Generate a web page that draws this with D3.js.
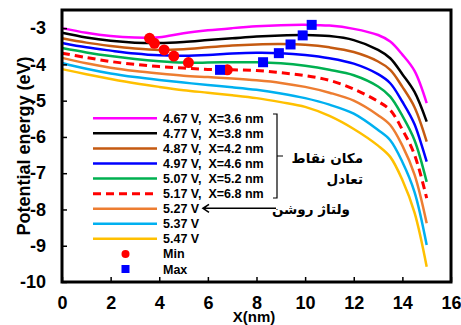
<!DOCTYPE html>
<html>
<head>
<meta charset="utf-8">
<script src="https://cdn.jsdelivr.net/npm/d3@7/dist/d3.min.js"></script>
<style>
  html, body { margin: 0; padding: 0; background: #fff; }
  svg { display: block; }
  text { font-family: Arial, "Liberation Sans", sans-serif; font-weight: bold; }
  .fa { font-family: "DejaVu Sans", sans-serif; font-weight: bold; }
</style>
</head>
<body>
<svg id="chart" width="461" height="325"></svg>
<script>
// Sample positions along the device (nm)
const positions = [0, 1, 2, 3, 4, 5, 6, 7, 8, 9, 10, 11, 12, 13, 13.5, 14, 14.5, 15];

// Potential energy (eV) for each applied voltage
const e467 = [-3.00, -3.13, -3.22, -3.26, -3.25, -3.14, -3.06, -3.00, -2.95, -2.92, -2.91, -2.93, -3.02, -3.19, -3.37, -3.73, -4.18, -5.07];
const e477 = [-3.13, -3.26, -3.35, -3.40, -3.41, -3.38, -3.33, -3.28, -3.23, -3.20, -3.19, -3.22, -3.33, -3.60, -3.83, -4.27, -4.76, -5.58];
const e487 = [-3.28, -3.40, -3.49, -3.56, -3.60, -3.58, -3.53, -3.48, -3.45, -3.44, -3.46, -3.53, -3.66, -3.92, -4.15, -4.62, -5.18, -6.13];
const e497 = [-3.41, -3.53, -3.62, -3.70, -3.75, -3.76, -3.74, -3.70, -3.68, -3.69, -3.74, -3.83, -3.98, -4.27, -4.52, -5.03, -5.65, -6.68];
const e507 = [-3.55, -3.67, -3.77, -3.85, -3.91, -3.95, -3.95, -3.94, -3.94, -3.97, -4.04, -4.15, -4.30, -4.61, -4.89, -5.42, -6.09, -7.24];
const e517 = [-3.69, -3.81, -3.92, -4.00, -4.06, -4.10, -4.14, -4.15, -4.17, -4.23, -4.31, -4.44, -4.68, -5.02, -5.26, -5.80, -6.49, -7.69];
const e527 = [-3.82, -3.97, -4.09, -4.18, -4.25, -4.31, -4.35, -4.39, -4.44, -4.51, -4.62, -4.78, -5.00, -5.40, -5.67, -6.24, -7.04, -8.38];
const e537 = [-3.96, -4.12, -4.25, -4.35, -4.43, -4.50, -4.57, -4.63, -4.70, -4.80, -4.93, -5.11, -5.36, -5.81, -6.09, -6.69, -7.52, -8.98];
const e547 = [-4.13, -4.27, -4.40, -4.52, -4.62, -4.71, -4.78, -4.85, -4.93, -5.04, -5.17, -5.42, -5.78, -6.24, -6.55, -7.19, -8.09, -9.58];

const voltageLabels = ["4.67 V", "4.77 V", "4.87 V", "4.97 V", "5.07 V", "5.17 V", "5.27 V", "5.37 V", "5.47 V"];
const lineColors = ["#ff00ff", "#000000", "#c55a11", "#0000ff", "#00b050", "#ff0000", "#ed7d31", "#00b0f0", "#ffc000"];

// Equilibrium points (local minimum / maximum) for the first six voltages
const minX = [3.6, 3.8, 4.2, 4.6, 5.2, 6.8];
const minE = [-3.28, -3.42, -3.60, -3.77, -3.95, -4.15];
const maxX = [10.27, 9.9, 9.4, 8.92, 8.27, 6.5];
const maxE = [-2.91, -3.20, -3.45, -3.69, -3.94, -4.15];

const xTicks = [0, 2, 4, 6, 8, 10, 12, 14, 16];
const yTicks = [-10, -9, -8, -7, -6, -5, -4, -3];

const seriesValues = [e467, e477, e487, e497, e507, e517, e527, e537, e547];

const svg = d3.select("#chart");
const x = d3.scaleLinear().domain([0, 16]).range([62, 451]);
const y = d3.scaleLinear().domain([-10, -2.5]).range([282, 10]);

svg.append("rect").attr("width", 461).attr("height", 325).attr("fill", "#fff");

// Curves
const line = d3.line()
  .x(d => x(d[0]))
  .y(d => y(d[1]))
  .curve(d3.curveCatmullRom.alpha(0.5));

seriesValues.forEach((vals, i) => {
  svg.append("path")
    .attr("d", line(positions.map((p, k) => [p, vals[k]])))
    .attr("fill", "none")
    .attr("stroke", lineColors[i])
    .attr("stroke-width", i === 5 ? 3 : 2.5)
    .attr("stroke-dasharray", i === 5 ? "8,5" : null);
});

// Markers
svg.selectAll("circle.min").data(minX).enter().append("circle")
  .attr("class", "min")
  .attr("cx", d => x(d))
  .attr("cy", (d, i) => y(minE[i]))
  .attr("r", 5.5)
  .attr("fill", "#ff0000");

svg.selectAll("rect.max").data(maxX).enter().append("rect")
  .attr("class", "max")
  .attr("x", d => x(d) - 5)
  .attr("y", (d, i) => y(maxE[i]) - 5)
  .attr("width", 10).attr("height", 10)
  .attr("fill", "#0000ff");

// Axes
const xAxis = d3.axisBottom(x).tickValues(xTicks).tickSizeInner(-5).tickSizeOuter(0).tickPadding(14)
  .tickFormat(d => String(d));
const yAxis = d3.axisLeft(y).tickValues(yTicks).tickSizeInner(-5).tickSizeOuter(0).tickPadding(16)
  .tickFormat(d => String(d));

const gx = svg.append("g").attr("transform", "translate(0,282)").call(xAxis);
const gy = svg.append("g").attr("transform", "translate(62,0)").call(yAxis);
[gx, gy].forEach(g => {
  g.select(".domain").remove();
  g.selectAll(".tick line").attr("stroke", "#000").attr("stroke-width", 1.5);
  g.selectAll(".tick text").attr("fill", "#000").style("font-size", "18px")
    .style("font-family", "Arial, 'Liberation Sans', sans-serif").style("font-weight", "bold");
});

// Frame
svg.append("rect")
  .attr("x", x(0)).attr("y", y(-2.5))
  .attr("width", x(16) - x(0)).attr("height", y(-10) - y(-2.5))
  .attr("fill", "none").attr("stroke", "#000").attr("stroke-width", 3);

// Axis titles
svg.append("text")
  .attr("transform", "translate(30,146) rotate(-90)")
  .attr("text-anchor", "middle")
  .style("font-size", "18px")
  .text("Potential energy (eV)");

svg.append("text")
  .attr("x", 254).attr("y", 321.5)
  .attr("text-anchor", "middle")
  .style("font-size", "15px")
  .text("X(nm)");

// Legend
const legendRows = voltageLabels.map((v, i) => i < minX.length ? `${v},  X=${minX[i]} nm` : v);
const rowY = i => 118.3 + i * 15.07;
const legend = svg.append("g");
legendRows.forEach((label, i) => {
  legend.append("line")
    .attr("x1", 93).attr("x2", 157)
    .attr("y1", rowY(i)).attr("y2", rowY(i))
    .attr("stroke", lineColors[i])
    .attr("stroke-width", i === 5 ? 3 : 2.5)
    .attr("stroke-dasharray", i === 5 ? "8,5" : null);
  legend.append("text")
    .attr("x", 163).attr("y", rowY(i) + 4.5)
    .style("font-size", "12.5px")
    .style("white-space", "pre")
    .attr("xml:space", "preserve")
    .text(label);
});
legend.append("circle").attr("cx", 125.5).attr("cy", rowY(9)).attr("r", 4).attr("fill", "#ff0000");
legend.append("text").attr("x", 163).attr("y", rowY(9) + 4.5).style("font-size", "12.5px").text("Min");
legend.append("rect").attr("x", 121.5).attr("y", rowY(10) - 4).attr("width", 8).attr("height", 8).attr("fill", "#0000ff");
legend.append("text").attr("x", 163).attr("y", rowY(10) + 4.5).style("font-size", "12.5px").text("Max");

// Bracket grouping the equilibrium rows
svg.append("path")
  .attr("d", "M273,114H277V198H273M277,156H283")
  .attr("fill", "none").attr("stroke", "#000").attr("stroke-width", 1.2);

svg.append("text").attr("class", "fa")
  .attr("x", 363).attr("y", 163).attr("text-anchor", "end")
  .style("font-size", "13.5px").text("مکان نقاط");
svg.append("text").attr("class", "fa")
  .attr("x", 363).attr("y", 184).attr("text-anchor", "end")
  .style("font-size", "13.5px").text("تعادل");

// Turn-on voltage annotation with arrow
svg.append("text").attr("class", "fa")
  .attr("x", 350).attr("y", 214).attr("text-anchor", "end")
  .style("font-size", "13.5px").text("ولتاژ روشن");
svg.append("path")
  .attr("d", "M276,208.3H203M209,204.3L203,208.3L209,212.3")
  .attr("fill", "none").attr("stroke", "#000").attr("stroke-width", 1.6);
</script>
</body>
</html>
